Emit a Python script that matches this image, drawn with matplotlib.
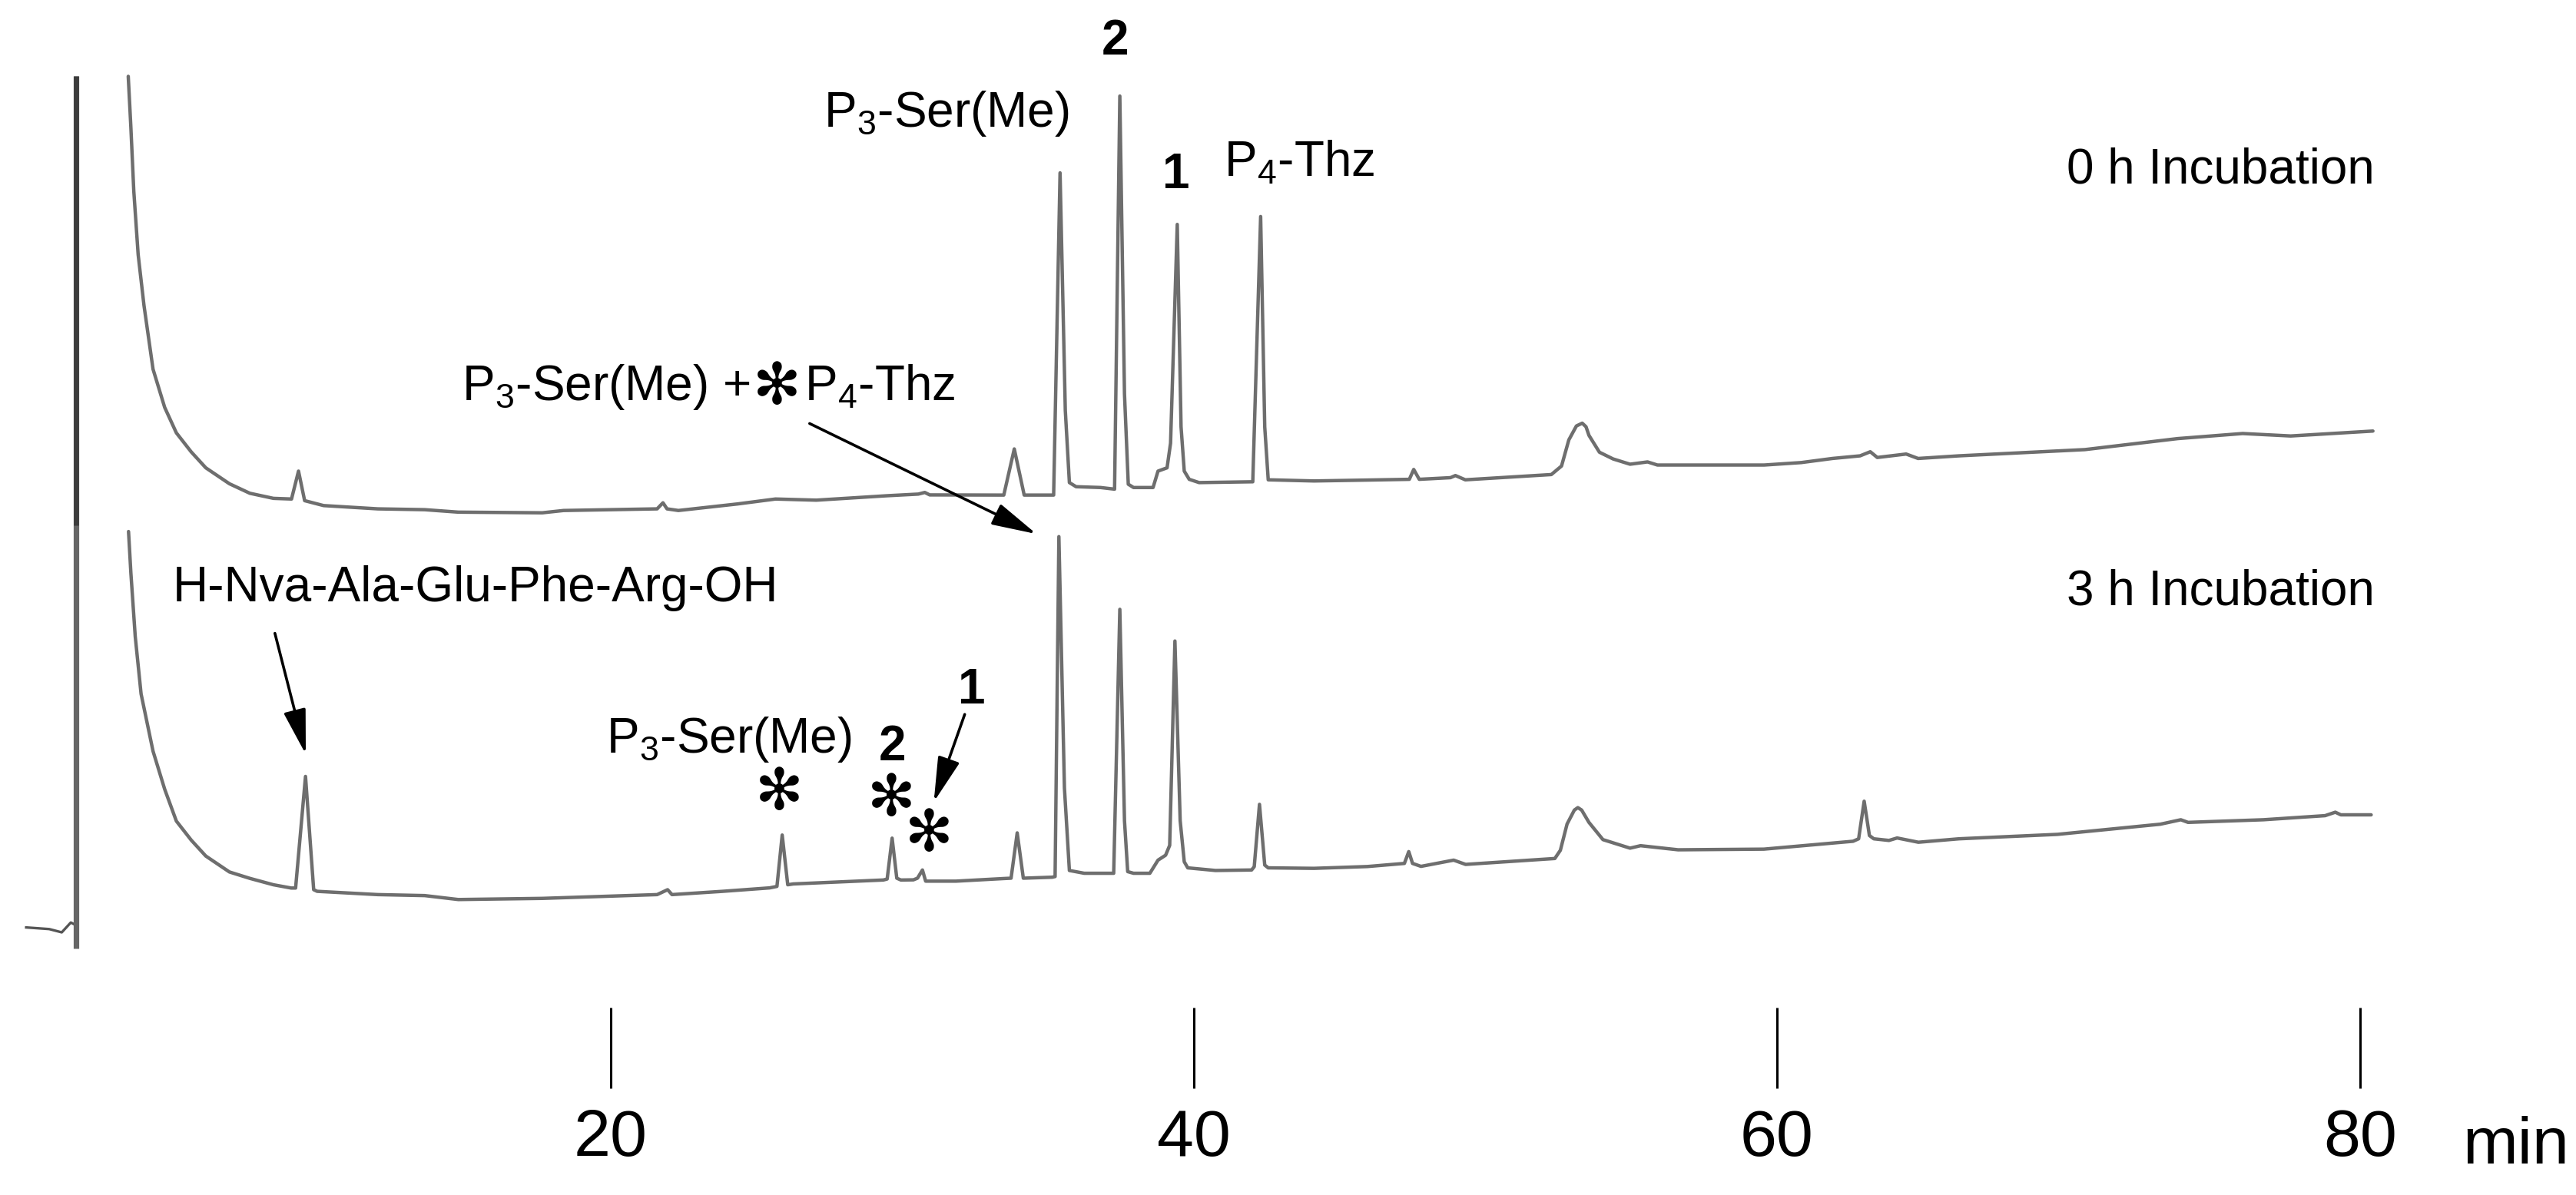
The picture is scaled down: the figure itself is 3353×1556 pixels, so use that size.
import numpy as np
import matplotlib
matplotlib.use("Agg")
import matplotlib.pyplot as plt

plt.rcParams['font.family'] = ['Liberation Sans', 'DejaVu Sans']
plt.rcParams['mathtext.fontset'] = 'custom'
plt.rcParams['mathtext.rm'] = 'Liberation Sans'
plt.rcParams['mathtext.bf'] = 'Liberation Sans:bold'

# HPLC traces: retention time (min) and detector signal (a.u.)
t_0h = [3.45, 3.54, 3.64, 3.79, 3.99, 4.30, 4.70, 5.10, 5.61, 6.11, 6.92, 7.62, 8.43,
        9.05, 9.29, 9.50, 10.15, 12.01, 13.62,
        14.77, 17.65, 18.38, 21.59, 21.79, 21.93, 22.32, 24.35, 25.65, 27.05, 29.48,
        30.55, 30.77, 30.94, 33.36, 33.48, 33.84, 34.18, 35.19, 35.41, 35.59, 35.73,
        35.96, 36.80, 37.28, 37.46, 37.62, 37.75, 37.93, 38.60, 38.77, 39.08, 39.20,
        39.43, 39.56, 39.67, 39.84, 40.18, 42.02, 42.29, 42.43, 42.55, 44.12, 45.81,
        47.39, 47.54, 47.73, 48.80, 48.97, 49.31, 52.26, 52.61, 52.86, 53.12, 53.32,
        53.45, 53.55, 53.91, 54.38, 54.96, 55.56, 55.90, 59.56, 60.83, 61.90, 62.85,
        63.20, 63.44, 64.43, 64.84, 66.24, 70.56, 73.74, 75.97, 77.62, 80.44]
sig_0h = [263.5, 232.5, 193.7, 154.9, 123.9, 85.1, 61.8, 46.3, 34.7, 25, 15.3, 9.5, 6.4,
          6, 23, 5, 2, 0, -0.5,
          -2, -2.4, -1, 0, 3.7, 0, -1, 3, 6, 5.3, 8,
          9, 10, 8.5, 8.4, 8.4, 36.5, 8.4, 8.4, 204.7, 60, 16,
          13.5, 13, 12, 251.5, 70, 15, 13, 13, 23, 25, 40,
          173.3, 50, 23, 18, 16, 16.5, 178.1, 50, 17.7, 17, 17.5,
          18, 24, 18, 19, 20.3, 17.7, 20.9, 26.1, 42, 50.5, 52.2,
          50, 44.8, 34.5, 30.4, 27.2, 28.6, 26.7, 26.7, 28.2, 30.7, 32.3,
          34.8, 31.3, 33.4, 30.7, 32.3, 36.1, 42.8, 45.9, 44.4, 47.4]

t_3h = [3.46, 3.54, 3.69, 3.89, 4.30, 4.70, 5.10, 5.61, 6.11, 6.92, 7.62, 8.43, 9.04,
        9.19, 9.53, 9.81, 9.93, 12.01,
        13.62, 14.77, 17.65, 21.59, 21.95, 22.10, 23.84, 25.45, 25.70, 25.88, 26.07,
        26.26, 29.35, 29.48, 29.65, 29.81, 29.95, 30.38, 30.52, 30.69, 30.80, 31.84,
        33.49, 33.73, 33.94, 34.15, 35.14, 35.24, 35.37, 35.56, 35.73, 36.24, 37.25,
        37.46, 37.62, 37.73, 37.93, 38.49, 38.77, 39.03, 39.17, 39.35, 39.53, 39.67,
        39.79, 40.74, 41.98, 42.07, 42.25, 42.43, 42.55, 44.12, 45.95, 47.22, 47.37,
        47.50, 47.79, 48.91, 49.32, 52.38, 52.57, 52.80, 53.05, 53.17, 53.30, 53.55,
        54.03, 54.96, 55.32, 56.61, 59.55, 62.61, 62.80, 62.99, 63.17, 63.32, 63.84,
        64.12, 64.85, 66.24, 69.62, 73.15, 73.85, 74.10, 76.68, 78.80, 79.15, 79.34, 80.38]
sig_3h = [222.2, 197, 158.2, 123.3, 88.4, 65.2, 45.8, 34.2, 24.5, 14.8, 10.9, 7, 5,
          5, 73, 4, 3, 1,
          0.4, -2, -1.3, 1, 4, 1, 3, 5.1, 6, 37.3, 7,
          7.5, 9.9, 10.5, 35.4, 11, 9.9, 10, 11, 16, 9.2, 9.2,
          10.8, 11, 38.6, 11, 11.6, 12, 219.1, 66, 15.7, 14, 14,
          174.8, 46, 15, 14, 14, 22, 25, 31, 155.5, 46, 21,
          17.3, 15.7, 16, 18, 56, 19, 17.3, 17, 18.1, 20, 27.2,
          20, 18.2, 22, 19.4, 23, 28, 44, 52.5, 54, 52.5, 45,
          34.5, 29.3, 30.8, 28.3, 28.7, 33.5, 35, 57.9, 37, 35, 34,
          35.5, 32.9, 35, 37.7, 43.9, 46.6, 45, 46.6, 49.1, 51.2, 49.6, 49.6]

# baseline of the 3 h run before the injection
t_3h_pre = [-0.05, 0.74, 1.17, 1.48, 1.59]
sig_3h_pre = [-19, -20, -22, -16, -17]

# injection spike (off scale), time and signal span for each run
inj_time = 1.67
inj_0h = [-10, 263.5]
inj_3h = [-32, 499.5]

offset_0h = 240
offset_3h = 4

tick_times = [20, 40, 60, 80]
tick_labels = ['20', '40', '60', '80']

trace_color = '#6e6e6e'
fs = 23

fig = plt.figure(figsize=(3353 / 200, 1556 / 200), dpi=200)
ax = fig.add_axes([0, 0, 1, 1])
ax.set_xlim(-0.9486, 87.405)
ax.set_ylim(-178, 550)

ax.plot(t_0h, np.array(sig_0h) + offset_0h, color=trace_color, lw=1.6,
        solid_joinstyle='round', solid_capstyle='round')
ax.plot(t_3h, np.array(sig_3h) + offset_3h, color=trace_color, lw=1.6,
        solid_joinstyle='round', solid_capstyle='round')
ax.plot(t_3h_pre, np.array(sig_3h_pre) + offset_3h, color='#555555', lw=1.2)
ax.vlines(inj_time, inj_3h[0] + offset_3h, inj_3h[1] + offset_3h, color='#666666', lw=2.6)
ax.vlines(inj_time, inj_0h[0] + offset_0h, inj_0h[1] + offset_0h, color='#3c3c3c', lw=2.4)

# x axis: floating tick marks, labels below
for s in ax.spines.values():
    s.set_visible(False)
ax.spines['bottom'].set_position(('data', -64))
ax.yaxis.set_visible(False)
ax.set_xticks(tick_times)
ax.set_xticklabels(tick_labels)
ax.tick_params(axis='x', direction='out', length=37.7, width=1.1, pad=9.5,
               labelsize=31, color='k')
ax.text(83.5, -159, 'min', fontsize=31, ha='left', va='baseline')

# run labels
ax.text(80.5, 438.5, '0 h Incubation', fontsize=fs, ha='right', va='baseline')
ax.text(80.5, 181.5, '3 h Incubation', fontsize=fs, ha='right', va='baseline')

# peak labels, 0 h
ax.text(31.51, 472.8, r'$\mathrm{P}_3$-Ser(Me)', fontsize=fs, ha='center', va='baseline')
ax.text(37.31, 517, '2', fontsize=fs, fontweight='bold', ha='center', va='baseline')
ax.text(39.39, 435.2, '1', fontsize=fs, fontweight='bold', ha='center', va='baseline')
ax.text(43.62, 442.5, r'$\mathrm{P}_4$-Thz', fontsize=fs, ha='center', va='baseline')

ast = '\u273b'
ax.text(14.90, 306.2, r'$\mathrm{P}_3$-Ser(Me) +', fontsize=fs, ha='left', va='baseline')
ax.text(25.70, 313.4, ast, fontsize=27, family='DejaVu Sans', ha='center', va='center')
ax.text(26.64, 306.2, r'$\mathrm{P}_4$-Thz', fontsize=fs, ha='left', va='baseline')

arrow = dict(arrowstyle='-|>,head_length=1.8,head_width=0.45', lw=1.3, color='k',
             shrinkA=0, shrinkB=0, mutation_scale=10)
ax.annotate('', xy=(34.60, 224.7), xytext=(26.82, 292), arrowprops=arrow)

# peak labels, 3 h
ax.text(15.36, 183.5, 'H-Nva-Ala-Glu-Phe-Arg-OH', fontsize=fs, ha='center', va='baseline')
ax.annotate('', xy=(9.54, 90.5), xytext=(8.48, 164.2), arrowprops=arrow)
ax.text(24.05, 91.7, r'$\mathrm{P}_3$-Ser(Me)', fontsize=fs, ha='center', va='baseline')
ax.text(29.65, 87, '2', fontsize=fs, fontweight='bold', ha='center', va='baseline')
ax.text(32.37, 121.4, '1', fontsize=fs, fontweight='bold', ha='center', va='baseline')
ax.annotate('', xy=(31.08, 61.5), xytext=(32.14, 114.8), arrowprops=arrow)
for tx, ty in [(25.79, 66.4), (29.62, 62.7), (30.91, 41)]:
    ax.text(tx, ty, ast, fontsize=27, family='DejaVu Sans', ha='center', va='center')

fig.savefig('out.png', dpi=200)
